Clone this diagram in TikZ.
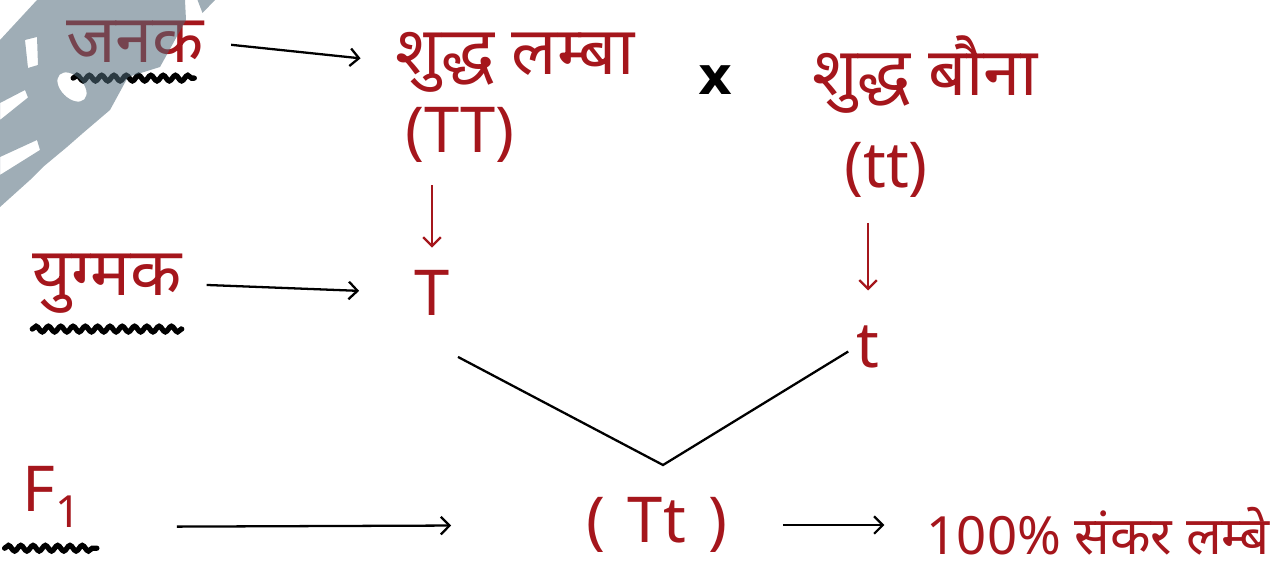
\documentclass[tikz,border=0pt]{standalone}
\usepackage{fontspec}
\newfontfamily\hindi[Script=Devanagari]{Noto Sans}
\newfontfamily\crossfont{DejaVu Sans}
\usetikzlibrary{arrows.meta,decorations.pathmorphing}
\definecolor{InkRed}{RGB}{165,22,28}
\definecolor{MarkBlue}{RGB}{80,106,122}

\begin{document}
\begin{tikzpicture}[>={Straight Barb[length=5pt,width=10pt]},
      word/.style={text=InkRed,inner sep=0pt,font=\hindi\fontsize{38}{40}\selectfont},
      gene/.style={text=InkRed,inner sep=0pt,font=\hindi\fontsize{36}{38}\selectfont},
      ar/.style={->,line width=1.3pt},
      dar/.style={->,line width=1.3pt,draw=InkRed},
      squig/.style={line width=3pt,line cap=round,decorate,
                    decoration={snake,amplitude=1.6pt,segment length=7pt}}]
    \useasboundingbox (0,0) rectangle (25.44,-11.58);
    % row labels
    \node[word] (janak) at (2.7,-0.84) {जनक};
    \node[word] (yugmak) at (2.14,-5.68) {युग्मक};
    \node[gene] (F1) at (1.04,-9.94) {F\textsubscript{1}};
    \draw[squig] ([xshift=0.15cm,yshift=-0.3cm]janak.south west) -- ([xshift=-0.2cm,yshift=-0.3cm]janak.south east);
    \draw[squig] ([yshift=-0.3cm]yugmak.south west) -- ([yshift=-0.3cm]yugmak.south east);
    \draw[squig] ([xshift=-0.35cm,yshift=-0.4cm]F1.south west) -- ([xshift=0.3cm,yshift=-0.4cm]F1.south east);
    % parents
    \node[word] (lambaa) at (10.3,-1.24) {शुद्ध लम्बा};
    \node[gene] (TT) at (9.2,-2.7) {(TT)};
    \node[font=\crossfont\bfseries\fontsize{30}{30}\selectfont,inner sep=0pt] (cross) at (14.3,-1.6) {x};
    \node[word] (baunaa) at (18.5,-1.5) {शुद्ध बौना};
    \node[gene] (tt) at (17.72,-3.4) {(tt)};
    % gametes
    \node[gene] (T) at (8.64,-5.86) {T};
    \node[gene] (t) at (17.36,-6.94) {t};
    \coordinate (meet) at (13.26,-9.3);
    % offspring
    \node[gene] (Tt) at (13.14,-10.5) {(\hspace{0.45cm}Tt\hspace{0.45cm})};
    \node[word,font=\hindi\fontsize{30}{32}\selectfont] (result) at (21.96,-10.62) {100\% संकर लम्बे};
    % connectors
    \draw[ar,shorten <=0.54cm,shorten >=0.7cm] (janak.east) -- (lambaa.west);
    \draw[ar,shorten <=0.5cm,shorten >=1.1cm] (yugmak.east) -- (T.west);
    \draw[ar,shorten <=1.9cm,shorten >=2.7cm] ([yshift=-0.6cm]F1.east) -- (Tt.west);
    \draw[ar,shorten <=1.1cm,shorten >=0.84cm] (Tt.east) -- (Tt.east -| result.west);
    \draw[dar,shorten <=0.45cm,shorten >=0.45cm] (T.north |- TT.south) -- (T.north);
    \draw[dar,shorten <=0.5cm,shorten >=0.7cm] (t.north |- tt.south) -- (t.north);
    \draw[line width=1.3pt] ([shift={(0.52,-0.82)}]T.south) -- (meet) -- ([shift={(-0.16,0.34)}]t.south west);
    % watermark
    \fill[MarkBlue,opacity=0.55,even odd rule] (0.74,0) -- (3.7,0) -- (3.72,-0.4) -- (3.2,-1.34) -- (2.56,-1.54)
      -- (2.2,-2.2) -- (1.66,-2.66) -- (1.34,-2.94) -- (0.86,-3.34) -- (0.6,-3.6) -- (0,-4.14) -- (0,-0.8) -- cycle
      (0.5,-0.8) -- (0.74,-0.74) -- (0.76,-1.3) -- (0.56,-1.36) -- cycle
      (1.44,-1.74) ellipse [x radius=0.22, y radius=0.35, rotate=45]
      (0,-2.06) -- (0.5,-1.8) -- (0.56,-1.95) -- (0,-2.4) -- cycle
      (0,-3.14) -- (0.74,-2.8) -- (0.8,-3.0) -- (0,-3.5) -- cycle;
    \fill[MarkBlue,opacity=0.55] (3.95,0) -- (4.3,0) -- (4.05,-0.26) -- cycle;
  \end{tikzpicture}
\end{document}
